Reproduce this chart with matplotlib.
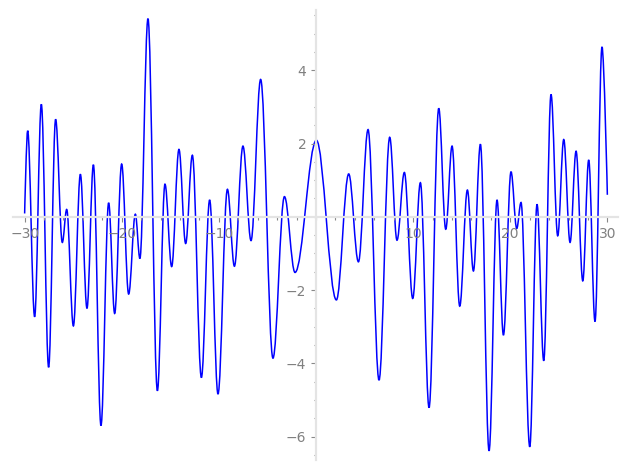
# Oscillating function on [-30, 30], drawn with axes crossing at the origin
# (local maxima/minima of the curve)

import matplotlib
matplotlib.use('Agg')
import matplotlib.pyplot as plt
from matplotlib.path import Path
from matplotlib.patches import PathPatch
from matplotlib.ticker import FixedLocator, MultipleLocator

# start point, then alternating extrema, then end point
x_pts = [-30.0, -29.69, -28.97, -28.28, -27.53, -26.81, -26.12, -25.67, -24.98,
         -24.26, -23.58, -22.92, -22.14, -21.35, -20.73, -20.01, -19.29, -18.60,
         -18.13, -17.30, -16.33, -15.55, -14.86, -14.11, -13.42, -12.73, -11.80,
         -10.95, -10.09, -9.12, -8.40, -7.52, -6.69, -5.70, -4.43, -3.25, -2.16,
         0.04, 2.10, 3.37, 4.37, 5.36, 6.49, 7.59, 8.34, 9.10, 9.96, 10.75, 11.64,
         12.64, 13.36, 14.01, 14.80, 15.59, 16.21, 16.93, 17.82, 18.64, 19.30,
         20.08, 20.67, 21.11, 22.01, 22.76, 23.45, 24.20, 24.89, 25.51, 26.16,
         26.78, 27.47, 28.08, 28.73, 29.45, 30.0]
y_pts = [0.09, 2.35, -2.73, 3.07, -4.11, 2.66, -0.70, 0.20, -2.98,
         1.16, -2.50, 1.42, -5.70, 0.38, -2.64, 1.44, -2.11, 0.07,
         -1.14, 5.41, -4.75, 0.89, -1.36, 1.84, -0.73, 1.68, -4.39,
         0.46, -4.84, 0.75, -1.35, 1.93, -0.65, 3.75, -3.86, 0.55, -1.52,
         2.09, -2.27, 1.17, -1.23, 2.38, -4.46, 2.17, -0.64, 1.21, -2.23, 0.93, -5.21,
         2.96, -0.34, 1.93, -2.44, 0.73, -1.48, 1.98, -6.39, 0.46, -3.23,
         1.23, -0.32, 0.39, -6.28, 0.34, -3.93, 3.34, -0.52, 2.11, -0.70,
         1.79, -1.75, 1.55, -2.86, 4.64, 0.60]

x_major = [-30, -20, -10, 10, 20, 30]
y_major = [-6, -4, -2, 2, 4]

# smooth path: cubic segments with flat tangents at the extrema
k = 0.364
verts = [(x_pts[0], y_pts[0])]
codes = [Path.MOVETO]
n = len(x_pts)
for i in range(n - 1):
    xa, ya, xb, yb = x_pts[i], y_pts[i], x_pts[i + 1], y_pts[i + 1]
    dx = xb - xa
    c1 = (xa, ya) if i == 0 else (xa + k * dx, ya)
    c2 = (xb, yb) if i == n - 2 else (xb - k * dx, yb)
    verts += [c1, c2, (xb, yb)]
    codes += [Path.CURVE4] * 3

fig = plt.figure(figsize=(6.27, 4.7), dpi=100)
ax = fig.add_axes([0.0207, 0.0213, 0.965, 0.957])

ax.add_patch(PathPatch(Path(verts, codes), fill=False, edgecolor='blue', lw=1.1))

ax.set_xlim(-31.2, 31.1)
ax.set_ylim(-6.64, 5.64)

for s in ['top', 'right']:
    ax.spines[s].set_visible(False)
ax.spines['left'].set_position(('data', 0))
ax.spines['bottom'].set_position(('data', 0))
for s in ['left', 'bottom']:
    ax.spines[s].set_color('#e4e4e4')
    ax.spines[s].set_linewidth(1.6)

ax.xaxis.set_major_locator(FixedLocator(x_major))
ax.yaxis.set_major_locator(FixedLocator(y_major))
ax.xaxis.set_minor_locator(MultipleLocator(2))
ax.yaxis.set_minor_locator(MultipleLocator(0.5))
ax.tick_params(which='major', length=3.5, width=0.8, color='#888888',
               labelcolor='#808080', labelsize=10)
ax.tick_params(which='minor', length=1.8, width=0.8, color='#888888')

fig.savefig('out.png', dpi=100)
